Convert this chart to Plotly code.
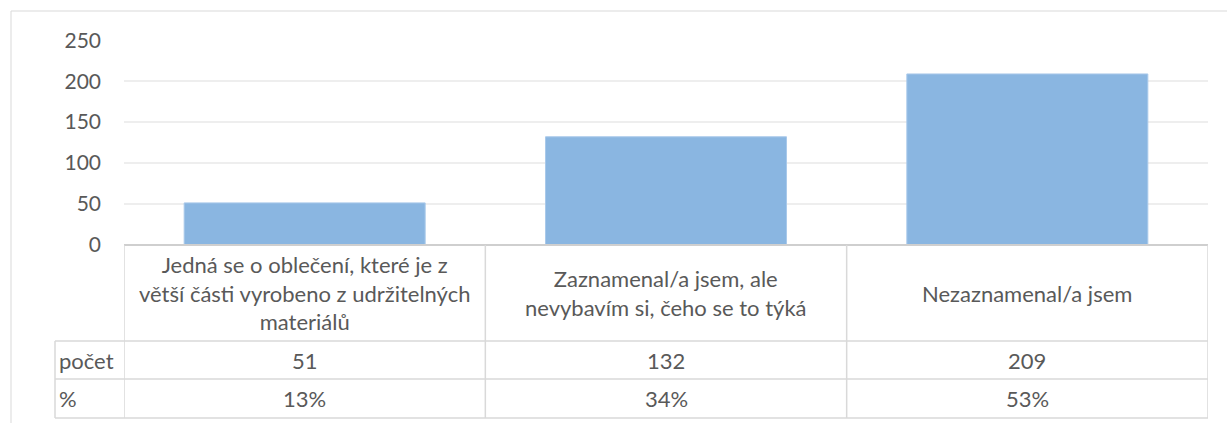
import plotly.graph_objects as go

categories = [
    "Jedná se o oblečení, které je z<br>větší části vyrobeno z udržitelných<br>materiálů",
    "Zaznamenal/a jsem, ale<br>nevybavím si, čeho se to týká",
    "Nezaznamenal/a jsem",
]
counts = [51, 132, 209]
percents = [13, 34, 53]
row_labels = ["počet", "%"]
y_ticks = [0, 50, 100, 150, 200, 250]

W, H = 1227, 423
def px(x):
    return x / W
def py(y):
    return (H - y) / H

FONT = "Lato"
TXT = "#595959"
GRID = "#EEEEEE"
TLINE = "#D9D9D9"
FS = 21
FT = 22

idx = list(range(len(categories)))

fig = go.Figure()
fig.add_trace(go.Bar(
    x=idx, y=counts,
    marker=dict(color="#8AB6E1", line=dict(color="#A9C9EA", width=1)),
    hoverinfo="skip",
))

shapes = []
# outer frame (top and left edges visible)
shapes.append(dict(type="line", xref="paper", yref="paper", x0=px(11), x1=1.0, y0=py(11), y1=py(11),
                   line=dict(color=TLINE, width=1)))
shapes.append(dict(type="line", xref="paper", yref="paper", x0=px(11), x1=px(11), y0=py(11), y1=0.0,
                   line=dict(color=TLINE, width=1)))

x_left = -0.5
x_right = len(categories) - 0.5
y_top = py(245)
y_r1 = py(341)
y_r2 = py(379)
y_bot = py(418)

# table top border
shapes.append(dict(type="line", xref="x", yref="paper", x0=x_left, x1=x_right, y0=y_top, y1=y_top,
                   line=dict(color="#CFCFCF", width=2)))
# horizontal row lines (including label column)
for yy in (y_r1, y_r2, y_bot):
    shapes.append(dict(type="line", xref="paper", yref="paper", x0=px(55), x1=px(1208), y0=yy, y1=yy,
                       line=dict(color=TLINE, width=1.5)))
# vertical column lines
for i in range(len(categories) + 1):
    xx = i - 0.5
    shapes.append(dict(type="line", xref="x", yref="paper", x0=xx, x1=xx, y0=y_top, y1=y_bot,
                       line=dict(color=TLINE, width=1.5)))
# label column left line
shapes.append(dict(type="line", xref="paper", yref="paper", x0=px(55), x1=px(55), y0=y_r1, y1=y_bot,
                   line=dict(color=TLINE, width=1.5)))

annotations = []
for i, c in enumerate(categories):
    annotations.append(dict(x=i, xref="x", y=py(293), yref="paper", text=c, showarrow=False,
                            xanchor="center", yanchor="middle", align="center",
                            font=dict(family=FONT, size=FT, color=TXT)))
    annotations.append(dict(x=i, xref="x", y=py(360), yref="paper", text=str(counts[i]), showarrow=False,
                            xanchor="center", yanchor="middle",
                            font=dict(family=FONT, size=FT, color=TXT)))
    annotations.append(dict(x=i, xref="x", y=py(398.5), yref="paper", text=f"{percents[i]}%", showarrow=False,
                            xanchor="center", yanchor="middle",
                            font=dict(family=FONT, size=FT, color=TXT)))
for lbl, yc in zip(row_labels, (360, 398.5)):
    annotations.append(dict(x=px(57), xref="paper", y=py(yc), yref="paper", text=lbl, showarrow=False,
                            xanchor="left", yanchor="middle",
                            font=dict(family=FONT, size=FT, color=TXT)))

fig.update_layout(
    width=W, height=H,
    autosize=False,
    margin=dict(l=0, r=0, t=0, b=0, pad=0, autoexpand=False),
    paper_bgcolor="white", plot_bgcolor="white",
    showlegend=False,
    bargap=0.333,
    shapes=shapes,
    annotations=annotations,
    xaxis=dict(domain=[px(124), px(1208)], range=[x_left, x_right], showticklabels=False,
               showgrid=False, zeroline=False, showline=False, fixedrange=True, automargin=False),
    yaxis=dict(domain=[py(244.5), py(40.5)], range=[0, 250], tickvals=y_ticks,
               showgrid=True, gridcolor=GRID, gridwidth=1.5, zeroline=False, showline=False,
               ticks="", ticklabelstandoff=22, automargin=False,
               tickfont=dict(family=FONT, size=FS, color=TXT), fixedrange=True),
)

fig.write_html(
    "out.html",
    config={"displayModeBar": False, "responsive": False},
    post_script="document.body.style.margin='0';document.body.style.overflow='hidden';",
)
